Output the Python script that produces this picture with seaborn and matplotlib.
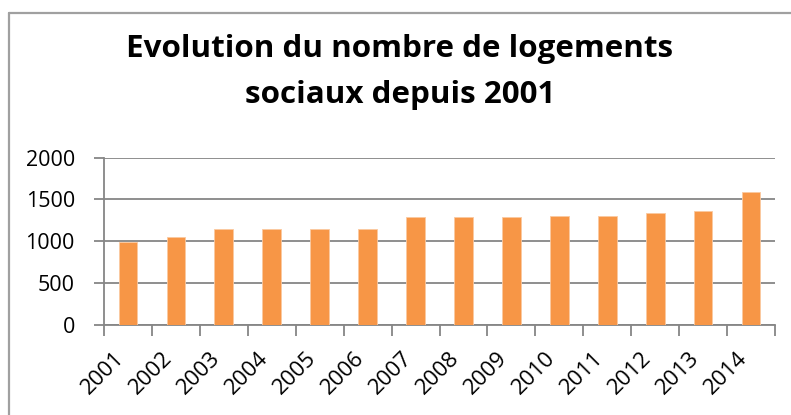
import matplotlib
matplotlib.use("Agg")
import matplotlib.pyplot as plt
from matplotlib.lines import Line2D
from matplotlib.transforms import ScaledTranslation
import seaborn as sns
import pandas as pd

years = ["2001", "2002", "2003", "2004", "2005", "2006", "2007",
         "2008", "2009", "2010", "2011", "2012", "2013", "2014"]
logements = [990, 1050, 1140, 1140, 1140, 1140, 1285,
             1285, 1285, 1305, 1300, 1335, 1360, 1590]
y_ticks = [0, 500, 1000, 1500, 2000]
title_lines = ["Evolution du nombre de logements", "sociaux depuis 2001"]

df = pd.DataFrame({"annee": years, "logements": logements})

sns.set_theme(style="white")
plt.rcParams["font.family"] = ["Open Sans", "DejaVu Sans"]

W, H = 791, 415
fig = plt.figure(figsize=(W / 100, H / 100), dpi=100)
ax = fig.add_axes([104 / W, 1 - 324.5 / H, (775 - 104) / W, (324.5 - 157.5) / H])

grey = "#868686"
sns.barplot(data=df, x="annee", y="logements", color="#F79646",
            saturation=1, width=0.39, ax=ax, zorder=3,
            edgecolor="#FBC9A0", linewidth=0.6)

ax.set_xlim(-0.5, len(years) - 0.5)
ax.set_ylim(0, 2000)
ax.set_yticks(y_ticks)
ax.set_yticklabels([str(v) for v in y_ticks])
ax.set_xlabel("")
ax.set_ylabel("")
ax.yaxis.grid(True, color=grey, linewidth=1.3, zorder=0)
ax.set_axisbelow(True)

for side in ("top", "right"):
    ax.spines[side].set_visible(False)
for side in ("left", "bottom"):
    ax.spines[side].set_color(grey)
    ax.spines[side].set_linewidth(1.3)

# category boundary ticks on the x axis
ax.set_xticks([i - 0.5 for i in range(len(years) + 1)], minor=True)
ax.tick_params(axis="x", which="minor", length=8, width=1.3, color=grey,
               direction="out", bottom=True)
ax.tick_params(axis="x", which="major", length=0, pad=22, labelsize=16,
               labelcolor="black")
ax.tick_params(axis="y", which="major", length=7, width=1.3, color=grey,
               direction="out", left=True, pad=14, labelsize=15.5,
               labelcolor="black")
shift = ScaledTranslation(-5 / 72, 0, fig.dpi_scale_trans)
for lbl in ax.get_xticklabels():
    lbl.set_rotation(45)
    lbl.set_ha("right")
    lbl.set_va("center")
    lbl.set_rotation_mode("anchor")
    lbl.set_transform(lbl.get_transform() + shift)

fig.text(400 / W, 1 - 57 / H, title_lines[0], ha="center", va="baseline",
         fontsize=22.6, fontweight="bold", color="black")
fig.text(400 / W, 1 - 103 / H, title_lines[1], ha="center", va="baseline",
         fontsize=22.6, fontweight="bold", color="black")

# chart frame
fig.add_artist(Line2D([8.5 / W, 8.5 / W], [0, 1 - 13 / H], color="#A0A0A0",
                      linewidth=1.6, transform=fig.transFigure))
fig.add_artist(Line2D([8.5 / W, 1], [1 - 13 / H, 1 - 13 / H], color="#A0A0A0",
                      linewidth=1.6, transform=fig.transFigure))

fig.savefig("out.png", dpi=100)
